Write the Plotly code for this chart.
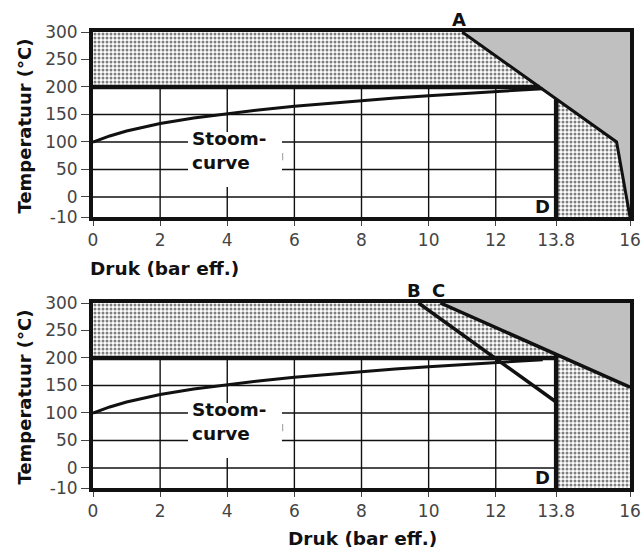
import plotly.graph_objects as go

# ---------------- data ----------------
x_ticks = [0, 2, 4, 6, 8, 10, 12, 13.8, 16]
x_tick_text = ["0", "2", "4", "6", "8", "10", "12", "13.8", "16"]
y_ticks = [-10, 0, 50, 100, 150, 200, 250, 300]
y_tick_text = ["-10", "0", "50", "100", "150", "200", "250", "300"]

# steam (saturation) curve
steam_p = [0, 0.5, 1, 1.5, 2, 3, 4, 5, 6, 7, 8, 9, 10, 11, 12, 13, 13.4]
steam_t = [100, 111, 120, 127, 133.5, 143.6, 151.8, 158.8, 165, 170.4, 175.4,
           179.9, 184.1, 188, 191.6, 195, 197]

grid_x = [2, 4, 6, 8, 10, 12]
grid_y = [0, 50, 100, 150]

limit_T = 200        # horizontal limit line
limit_P = 13.8       # vertical limit line D
p_min, p_max = 0, 16
t_min, t_max = -10, 300

# top chart: boundary line A
A_x = [11.0, 15.6, 16.0]
A_y = [300, 100, -10]
A_at_200 = 13.3      # where A crosses 200 °C
A_at_D = 178         # temperature of A at 13.8 bar

# bottom chart: boundary lines B and C
B_x = [9.7, 13.8]
B_y = [300, 120]
C_x = [10.35, 16.0]
C_y = [300, 147]
C_at_D = 206

# label box "Stoom-curve"
box_x = [2.83, 5.63]
box_y = [18, 118]

def ymap(v):
    # the -10 tick is drawn further from 0 than scale
    return v if v >= 0 else v * 3.64

# ---------------- figure ----------------
W, H = 642, 549
L, R, T, B = 93, 12, 32, 61
PW, PH = W - L - R, H - T - B
top_px = (32, 217)
bot_px = (303, 488)

def py(p):
    return 1 - (p - T) / PH

def px(p):
    return (p - L) / PW

fig = go.Figure()
FONT = "DejaVu Sans, Liberation Sans, Arial, sans-serif"
DOT = dict(shape=".", size=4, solidity=0.45, fgcolor="#000", bgcolor="white")
GREY = "#c0c0c0"
INK = "#111"

def add_panel(xa, ya, top):
    xr = "x" if xa == "xaxis" else "x2"
    yr = "y" if ya == "yaxis" else "y2"
    kw = dict(xaxis=xr, yaxis=yr, showlegend=False, hoverinfo="skip")
    # grid lines
    gx, gy = [], []
    for g in grid_x:
        gx += [g, g, None]
        gy += [ymap(t_min), limit_T, None]
    for g in grid_y:
        gx += [p_min, limit_P, None]
        gy += [g, g, None]
    fig.add_trace(go.Scatter(x=gx, y=gy, mode="lines",
                             line=dict(color=INK, width=1.4), **kw))
    # white label box
    fig.add_trace(go.Scatter(x=[box_x[0], box_x[1], box_x[1], box_x[0]],
                             y=[box_y[0], box_y[0], box_y[1], box_y[1]],
                             fill="toself", fillcolor="white", mode="none", **kw))
    if top:
        fig.add_trace(go.Scatter(x=[p_min, p_min, A_x[0], A_at_200],
                                 y=[limit_T, t_max, t_max, limit_T],
                                 fill="toself", fillpattern=DOT, fillcolor="white",
                                 mode="none", **kw))
        fig.add_trace(go.Scatter(x=[limit_P, limit_P, A_x[1], A_x[2]],
                                 y=[ymap(t_min), A_at_D, A_y[1], ymap(A_y[2])],
                                 fill="toself", fillpattern=DOT, fillcolor="white",
                                 mode="none", **kw))
        fig.add_trace(go.Scatter(x=[A_x[0], p_max, p_max, A_x[2], A_x[1]],
                                 y=[t_max, t_max, ymap(t_min), ymap(A_y[2]), A_y[1]],
                                 fill="toself", fillcolor=GREY, mode="none", **kw))
        h_end = A_at_200
        d_top = A_at_D
    else:
        fig.add_trace(go.Scatter(x=[p_min, p_min, C_x[0], limit_P, limit_P],
                                 y=[limit_T, t_max, t_max, C_at_D, limit_T],
                                 fill="toself", fillpattern=DOT, fillcolor="white",
                                 mode="none", **kw))
        fig.add_trace(go.Scatter(x=[limit_P, limit_P, C_x[1], p_max],
                                 y=[ymap(t_min), C_at_D, C_y[1], ymap(t_min)],
                                 fill="toself", fillpattern=DOT, fillcolor="white",
                                 mode="none", **kw))
        fig.add_trace(go.Scatter(x=[C_x[0], p_max, p_max],
                                 y=[t_max, t_max, C_y[1]],
                                 fill="toself", fillcolor=GREY, mode="none", **kw))
        h_end = limit_P
        d_top = C_at_D
    # steam curve
    fig.add_trace(go.Scatter(x=steam_p, y=steam_t, mode="lines",
                             line=dict(color=INK, width=3), **kw))
    # 200 line
    fig.add_trace(go.Scatter(x=[p_min, h_end], y=[limit_T, limit_T], mode="lines",
                             line=dict(color=INK, width=4.5), **kw))
    # D line
    fig.add_trace(go.Scatter(x=[limit_P, limit_P], y=[ymap(t_min), d_top], mode="lines",
                             line=dict(color=INK, width=4.5), **kw))
    if top:
        fig.add_trace(go.Scatter(x=A_x, y=[ymap(v) for v in A_y], mode="lines",
                                 line=dict(color=INK, width=3), **kw))
    else:
        fig.add_trace(go.Scatter(x=B_x, y=B_y, mode="lines",
                                 line=dict(color=INK, width=3.5), **kw))
        fig.add_trace(go.Scatter(x=C_x, y=C_y, mode="lines",
                                 line=dict(color=INK, width=3.5), **kw))
    # small artefact mark
    fig.add_trace(go.Scatter(x=[5.65, 5.65], y=[67, 80], mode="lines",
                             line=dict(color="#aaa", width=1.2), **kw))
    # texts
    fig.add_annotation(x=box_x[0] + 0.05, y=85, xref=xr, yref=yr,
                       text="<b>Stoom-<br>curve</b>", showarrow=False,
                       xanchor="left", yanchor="middle", align="left",
                       font=dict(family=FONT, size=18.5, color=INK))
    fig.add_annotation(x=13.38, y=ymap(-5), xref=xr, yref=yr, text="<b>D</b>",
                       showarrow=False, xanchor="center", yanchor="middle",
                       font=dict(family=FONT, size=18, color=INK))
    if top:
        fig.add_annotation(x=10.9, y=t_max, xref=xr, yref=yr, text="<b>A</b>",
                           showarrow=False, yanchor="bottom", yshift=0,
                           font=dict(family=FONT, size=18, color=INK))
    else:
        fig.add_annotation(x=9.55, y=t_max, xref=xr, yref=yr, text="<b>B</b>",
                           showarrow=False, yanchor="bottom", yshift=0,
                           font=dict(family=FONT, size=18, color=INK))
        fig.add_annotation(x=10.3, y=t_max, xref=xr, yref=yr, text="<b>C</b>",
                           showarrow=False, yanchor="bottom", yshift=0,
                           font=dict(family=FONT, size=18, color=INK))

add_panel("xaxis", "yaxis", True)
add_panel("xaxis2", "yaxis2", False)

axis_common = dict(showgrid=False, zeroline=False, showline=True, linewidth=4,
                   linecolor=INK, mirror=True, ticks="outside", tickcolor="#444",
                   automargin=False,
                   tickfont=dict(family=FONT, size=17, color="#444"))
xax = dict(axis_common, range=[p_min, p_max], tickvals=x_ticks, ticktext=x_tick_text,
           ticklen=5, tickwidth=1)
yax = dict(axis_common, range=[ymap(t_min), t_max], tickvals=[ymap(v) for v in y_ticks],
           ticktext=y_tick_text, ticklen=8, tickwidth=1)

fig.update_layout(
    width=W, height=H, margin=dict(l=L, r=R, t=T, b=B, autoexpand=False),
    paper_bgcolor="white", plot_bgcolor="white",
    xaxis=dict(xax, domain=[0, 1], anchor="y"),
    yaxis=dict(yax, domain=[py(top_px[1]), py(top_px[0])], anchor="x"),
    xaxis2=dict(xax, domain=[0, 1], anchor="y2"),
    yaxis2=dict(yax, domain=[py(bot_px[1]), py(bot_px[0])], anchor="x2"),
)

# axis titles
for (lo, hi) in [top_px, bot_px]:
    fig.add_annotation(x=px(24), y=py((lo + hi) / 2 + 2), xref="paper", yref="paper",
                       text="<b>Temperatuur (°C)</b>", textangle=-90, showarrow=False,
                       xanchor="center", yanchor="middle",
                       font=dict(family=FONT, size=18, color=INK))
fig.add_annotation(x=px(88), y=py(268), xref="paper", yref="paper",
                   text="<b>Druk (bar eff.)</b>", showarrow=False,
                   xanchor="left", yanchor="middle",
                   font=dict(family=FONT, size=18.5, color=INK))
fig.add_annotation(x=px(362), y=py(538), xref="paper", yref="paper",
                   text="<b>Druk (bar eff.)</b>", showarrow=False,
                   xanchor="center", yanchor="middle",
                   font=dict(family=FONT, size=18.5, color=INK))

fig.write_html("out.html", config={"displayModeBar": False},
               post_script="document.body.style.margin='0';document.body.style.overflow='hidden';")
